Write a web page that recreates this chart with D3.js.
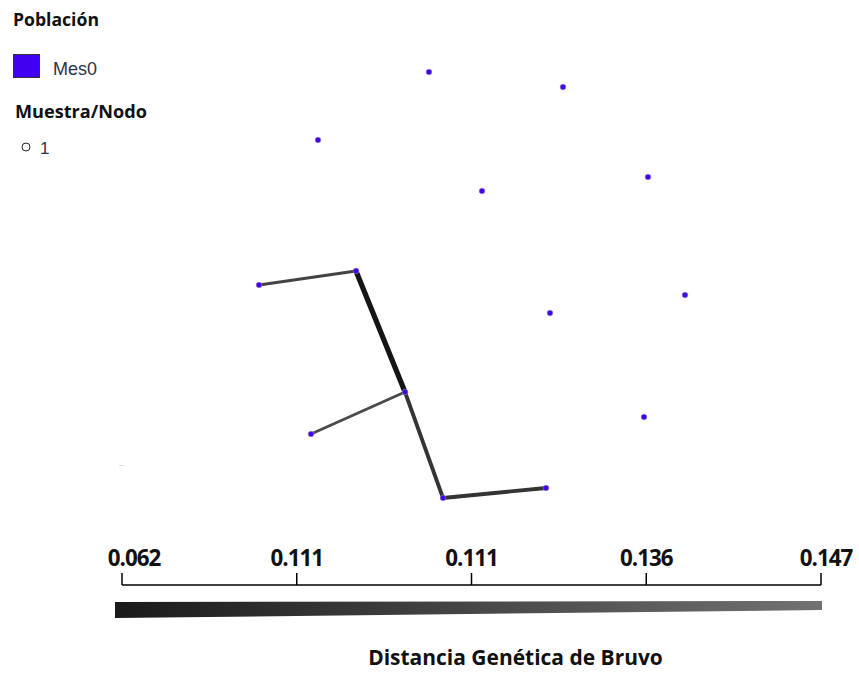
<!DOCTYPE html>
<html>
<head>
<meta charset="utf-8">
<script src="https://cdn.jsdelivr.net/npm/d3@7"></script>
<style>
  html, body { margin: 0; padding: 0; background: #fff; }
  svg { display: block; }
</style>
</head>
<body>
<div id="chart"></div>
<script>
// Datos
const nodeIds = [1, 2, 3, 4, 5, 6, 7, 8, 9, 10, 11, 12, 13, 14];
const nodeX = [429, 563, 318, 482, 648, 259, 356, 685, 550, 405, 311, 644, 443, 546];
const nodeY = [72, 87, 140, 191, 177, 285, 271, 295, 313, 392, 434, 417, 498, 488];
const nodePop = "Mes0";

const edgeSource = [7, 10, 13, 6, 10];
const edgeTarget = [10, 13, 14, 7, 11];
const edgeDist = [0.062, 0.111, 0.111, 0.136, 0.147];

const scaleLabels = ["0.062", "0.111", "0.111", "0.136", "0.147"];

const width = 859;
const height = 673;

const svg = d3
  .select("div#chart")
  .append("svg")
  .attr("width", width)
  .attr("height", height);

// ajusta el tamaño de letra a un ancho dado
function fitText(sel, target) {
  const base = parseFloat(sel.attr("font-size"));
  const w = sel.node().getComputedTextLength();
  if (w > 0) sel.attr("font-size", (base * target) / w);
  return sel;
}

// Escalas del layout
const x = d3.scaleLinear().domain(d3.extent(nodeX)).range(d3.extent(nodeX));
const y = d3.scaleLinear().domain(d3.extent(nodeY)).range(d3.extent(nodeY));

const distExtent = [0.062, 0.147];
const widthScale = d3.scaleLinear().domain(distExtent).range([5.2, 2.8]);
const colorScale = d3.scaleLinear().domain(distExtent).range(["#151515", "#4a4a4a"]);

const popColor = d3.scaleOrdinal().domain([nodePop]).range(["#4100f0"]);

// Aristas
const edgeGroup = svg.append("g").attr("id", "edgeGroup");
edgeGroup
  .selectAll("line")
  .data(edgeDist)
  .enter()
  .append("line")
  .attr("x1", (d, i) => x(nodeX[edgeSource[i] - 1]))
  .attr("y1", (d, i) => y(nodeY[edgeSource[i] - 1]))
  .attr("x2", (d, i) => x(nodeX[edgeTarget[i] - 1]))
  .attr("y2", (d, i) => y(nodeY[edgeTarget[i] - 1]))
  .attr("stroke", (d) => colorScale(d))
  .attr("stroke-width", (d) => widthScale(d))
  .attr("stroke-linecap", "round");

// Nodos
const nodeGroup = svg.append("g").attr("id", "nodeGroup");
nodeGroup
  .selectAll("circle")
  .data(nodeIds)
  .enter()
  .append("circle")
  .attr("cx", (d, i) => x(nodeX[i]))
  .attr("cy", (d, i) => y(nodeY[i]))
  .attr("r", 2.8)
  .attr("fill", popColor(nodePop))
  .attr("stroke", "#8a86b0")
  .attr("stroke-width", 0.6);

// pequeña marca suelta
svg.append("text")
  .attr("x", 119)
  .attr("y", 467)
  .attr("font-family", "DejaVu Sans")
  .attr("font-size", 6)
  .attr("fill", "#9a9aa8")
  .text("--");

// Leyenda
const legend = svg.append("g").attr("id", "legend");
fitText(legend.append("text")
  .attr("x", 13)
  .attr("y", 26)
  .attr("font-family", "Open Sans")
  .attr("font-weight", "bold")
  .attr("font-size", 15)
  .attr("fill", "#111")
  .text("Población"), 86);

legend.append("rect")
  .attr("x", 13.5)
  .attr("y", 54.5)
  .attr("width", 26)
  .attr("height", 23)
  .attr("fill", popColor(nodePop))
  .attr("stroke", "#333")
  .attr("stroke-width", 1);

fitText(legend.append("text")
  .attr("x", 53)
  .attr("y", 75)
  .attr("font-family", "Liberation Sans")
  .attr("font-size", 16)
  .attr("fill", "#2c3446")
  .text(nodePop), 44);

fitText(legend.append("text")
  .attr("x", 15)
  .attr("y", 118)
  .attr("font-family", "Open Sans")
  .attr("font-weight", "bold")
  .attr("font-size", 16)
  .attr("fill", "#111")
  .text("Muestra/Nodo"), 132);

legend.append("circle")
  .attr("cx", 26)
  .attr("cy", 147)
  .attr("r", 4)
  .attr("fill", "none")
  .attr("stroke", "#222")
  .attr("stroke-width", 1);

legend.append("text")
  .attr("x", 40)
  .attr("y", 154)
  .attr("font-family", "Liberation Sans")
  .attr("font-size", 17)
  .attr("fill", "#2c3446")
  .text("1");

// Barra de escala
const sx = d3.scalePoint().domain(d3.range(scaleLabels.length)).range([122, 821]);
const axisY = 585;

const axisGroup = svg.append("g").attr("id", "axisGroup");
axisGroup.append("line")
  .attr("x1", sx(0))
  .attr("x2", sx(scaleLabels.length - 1))
  .attr("y1", axisY)
  .attr("y2", axisY)
  .attr("stroke", "#000")
  .attr("stroke-width", 1.5);

axisGroup.selectAll("line.tick")
  .data(scaleLabels)
  .enter()
  .append("line")
  .attr("class", "tick")
  .attr("x1", (d, i) => sx(i))
  .attr("x2", (d, i) => sx(i))
  .attr("y1", axisY)
  .attr("y2", axisY - 12)
  .attr("stroke", "#000")
  .attr("stroke-width", 1.5);

axisGroup.selectAll("text")
  .data(scaleLabels)
  .enter()
  .append("text")
  .attr("x", (d, i) => sx(i) + (i === 0 ? 12 : i === scaleLabels.length - 1 ? 5 : 0))
  .attr("y", 566)
  .attr("text-anchor", "middle")
  .attr("font-family", "Open Sans")
  .attr("font-weight", "bold")
  .attr("font-size", 20)
  .attr("letter-spacing", -1)
  .attr("fill", "#111")
  .text((d) => d)
  .each(function () { fitText(d3.select(this), 52); });

// Barra degradada
const defs = svg.append("defs");
const grad = defs.append("linearGradient")
  .attr("id", "distGrad")
  .attr("x1", "0%").attr("x2", "100%")
  .attr("y1", "0%").attr("y2", "0%");
grad.append("stop").attr("offset", "0%").attr("stop-color", "#1a1a1a");
grad.append("stop").attr("offset", "100%").attr("stop-color", "#727272");

const x0 = sx(0) - 7;
const x1 = sx(scaleLabels.length - 1) + 1;
svg.append("path")
  .attr("d", `M${x0},602 L${x1},601 L${x1},610 L${x0},618 Z`)
  .attr("fill", "url(#distGrad)");

// Título
fitText(svg.append("text")
  .attr("x", 515.5)
  .attr("y", 665)
  .attr("text-anchor", "middle")
  .attr("font-family", "Open Sans")
  .attr("font-weight", "bold")
  .attr("font-size", 20)
  .attr("fill", "#111")
  .text("Distancia Genética de Bruvo"), 295);
</script>
</body>
</html>
